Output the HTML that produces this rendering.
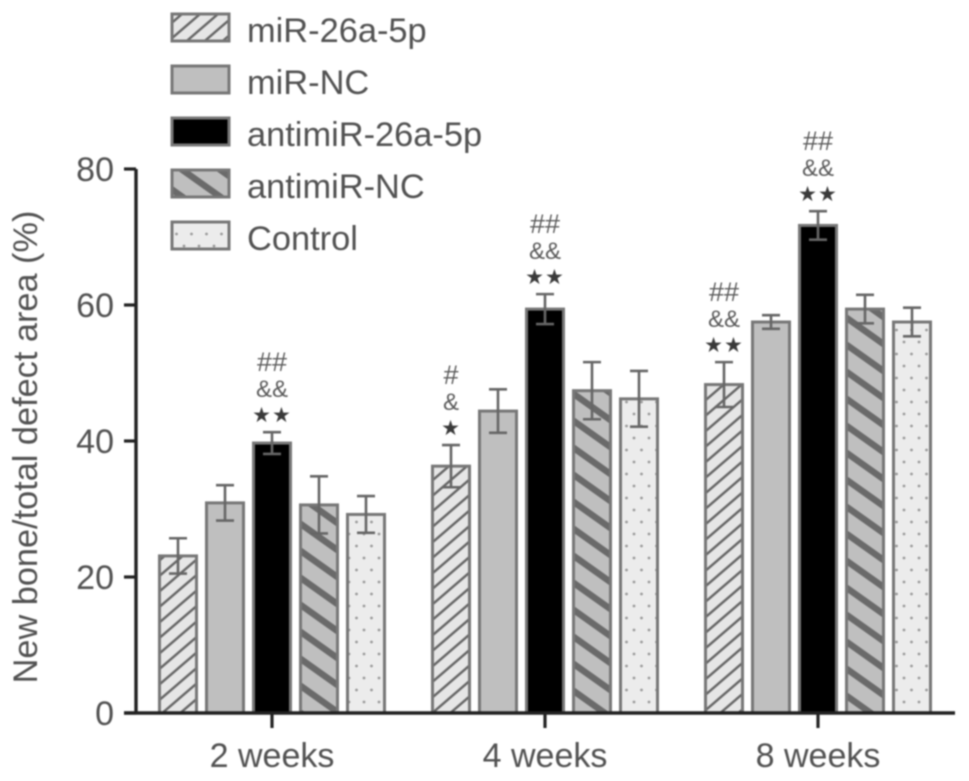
<!DOCTYPE html>
<html lang="en">
<head>
<meta charset="utf-8">
<title>New bone / total defect area</title>
<style>
html,body{margin:0;padding:0;background:#fff;width:969px;height:781px;overflow:hidden}
svg{display:block;filter:blur(0.7px)}
text{font-family:"Liberation Sans",sans-serif;fill:#525252}
</style>
</head>
<body>
<svg id="chart" xmlns="http://www.w3.org/2000/svg" width="969" height="781" viewBox="0 0 969 781">
<defs>
<pattern id="p-hatch" patternUnits="userSpaceOnUse" width="18" height="15.5" patternTransform="translate(160 2)">
<rect width="18" height="15.5" fill="#e6e6e6"/>
<path d="M-4.5 3.875L4.5 -3.875M-4.5 19.375L22.5 -3.875M13.5 19.375L22.5 11.625" stroke="#666" stroke-width="2.4" fill="none"/>
</pattern>
<pattern id="p-stripe" patternUnits="userSpaceOnUse" width="38" height="27" patternTransform="translate(160 19)">
<rect width="38" height="27" fill="#bfbfbf"/>
<path d="M-19 -13.5L57 40.5M-19 13.5L19 40.5M19 -13.5L57 13.5" stroke="#6a6a6a" stroke-width="6.5" fill="none"/>
</pattern>
<pattern id="p-dots" patternUnits="userSpaceOnUse" width="30" height="24">
<rect width="30" height="24" fill="#ececec"/>
<circle cx="4" cy="6" r="1.4" fill="#999"/>
<circle cx="19" cy="6" r="1.4" fill="#999"/>
<circle cx="11.5" cy="18" r="1.4" fill="#999"/>
<circle cx="26.5" cy="18" r="1.4" fill="#999"/>
</pattern>
</defs>
<g id="bars"></g>
<g id="axes"></g>
<g id="legend"></g>
<text transform="translate(37 447) rotate(-90)" text-anchor="middle" font-size="34.3">New bone/total defect area (%)</text>
</svg>
<script>
const categories = ["2 weeks", "4 weeks", "8 weeks"];
const seriesNames = ["miR-26a-5p", "miR-NC", "antimiR-26a-5p", "antimiR-NC", "Control"];
const valuesMiR26 = [23.1, 36.3, 48.3];
const valuesMiRNC = [30.9, 44.4, 57.5];
const valuesAnti26 = [39.7, 59.4, 71.7];
const valuesAntiNC = [30.6, 47.4, 59.4];
const valuesControl = [29.2, 46.2, 57.5];
const errMiR26 = [2.6, 3.1, 3.3];
const errMiRNC = [2.6, 3.2, 1.0];
const errAnti26 = [1.6, 2.2, 2.1];
const errAntiNC = [4.2, 4.2, 2.1];
const errControl = [2.7, 4.1, 2.1];
const yTicks = [0, 20, 40, 60, 80];
const annotMiR26 = [null, ["#", "&", "★"], ["##", "&&", "★★"]];
const annotAnti26 = [["##", "&&", "★★"], ["##", "&&", "★★"], ["##", "&&", "★★"]];

const seriesValues = [valuesMiR26, valuesMiRNC, valuesAnti26, valuesAntiNC, valuesControl];
const seriesErrors = [errMiR26, errMiRNC, errAnti26, errAntiNC, errControl];
const seriesAnnots = [annotMiR26, null, annotAnti26, null, null];
const seriesFills = ["url(#p-hatch)", "#bfbfbf", "#000", "url(#p-stripe)", "url(#p-dots)"];

const NS = "http://www.w3.org/2000/svg";
function yScale(v) { return 713 - v * 6.8; }
function groupCenter(g) { return 272 + g * 273; }
function barCenter(g, s) { return groupCenter(g) + (s - 2) * 47; }
function make(parent, tag, attrs, txt) {
  const el = document.createElementNS(NS, tag);
  for (const k in attrs) el.setAttribute(k, attrs[k]);
  if (txt !== undefined) el.textContent = txt;
  parent.appendChild(el);
  return el;
}
const barsG = document.getElementById("bars");
const axesG = document.getElementById("axes");
const legendG = document.getElementById("legend");
const BAR_W = 37;

seriesValues.forEach(function (vals, s) {
  vals.forEach(function (v, g) {
    const cx = barCenter(g, s);
    const top = yScale(v);
    const bar = make(barsG, "rect", {x: cx - BAR_W / 2, y: top, width: BAR_W, height: 713 - top, fill: seriesFills[s], stroke: "#777", "stroke-width": 3});
    
    
    const e = seriesErrors[s][g];
    const yHi = yScale(v + e);
    const yLo = yScale(v - e);
    const err = make(barsG, "path", {d: "M" + cx + " " + yHi + "V" + yLo + "M" + (cx - 9) + " " + yHi + "H" + (cx + 9) + "M" + (cx - 9) + " " + yLo + "H" + (cx + 9), stroke: "#666", "stroke-width": 2.6, fill: "none"});
    
    
    const ann = seriesAnnots[s] && seriesAnnots[s][g];
    if (ann) {
      const offsets = [-61, -35, -10];
      const sizes = [27, 24, 21];
      ann.forEach(function (t, i) {
        const isStar = i === 2;
        const lab = make(barsG, "text", {x: cx, y: yHi + offsets[i], "text-anchor": "middle", "font-size": sizes[i], "letter-spacing": isStar ? 1 : 0, style: isStar ? 'font-family:"DejaVu Sans",sans-serif;fill:#3a3a3a' : "fill:#5c5c5c"}, t);
        
        
      });
    }
  });
});

const yAxisLine = make(axesG, "path", {d: "M136 " + yScale(80) + "V" + yScale(0), stroke: "#222", "stroke-width": 3.4, fill: "none"});


const xAxisLine = make(axesG, "path", {d: "M124 713H955", stroke: "#222", "stroke-width": 3.4, fill: "none"});



yTicks.forEach(function (t) {
  const y = yScale(t);
  const tick = make(axesG, "path", {d: "M124 " + y + "H136", stroke: "#222", "stroke-width": 3.2});
  
  
  const lab = make(axesG, "text", {x: 114, y: y + 12, "text-anchor": "end", "font-size": 34}, String(t));
  
  
});

categories.forEach(function (c, g) {
  const x = groupCenter(g);
  const tick = make(axesG, "path", {d: "M" + x + " 713V728", stroke: "#222", "stroke-width": 3.2});
  
  
  const lab = make(axesG, "text", {x: x, y: 767, "text-anchor": "middle", "font-size": 34}, c);
  
  
});

seriesNames.forEach(function (n, s) {
  const y = 14 + s * 52;
  const swatch = make(legendG, "rect", {x: 172, y: y, width: 57, height: 27, fill: seriesFills[s], stroke: "#777", "stroke-width": 3});
  
  
  const lab = make(legendG, "text", {x: 247, y: y + 28, "font-size": 34.4}, n);
  
  
});
</script>
</body>
</html>
